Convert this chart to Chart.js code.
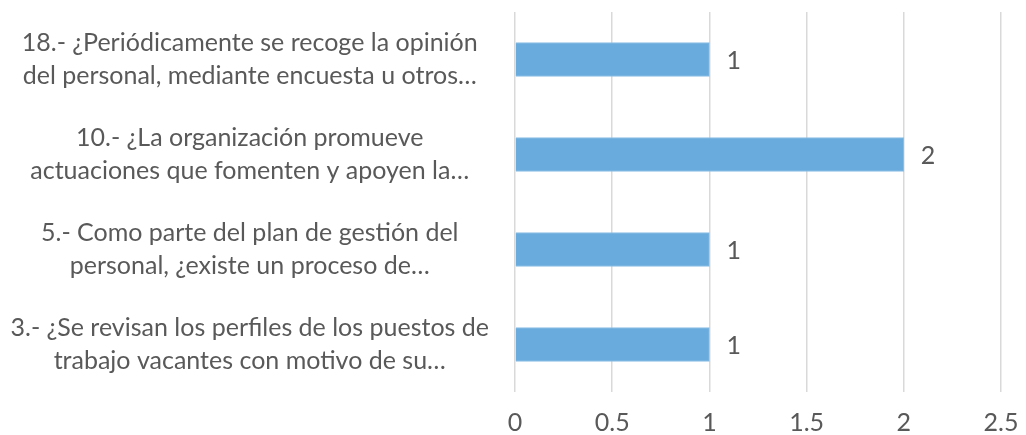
<!DOCTYPE html>
<html>
<head>
<meta charset="utf-8">
<script src="https://cdn.jsdelivr.net/npm/chart.js@4/dist/chart.umd.min.js"></script>
<style>
  html, body { margin: 0; padding: 0; background: #fff; }
  #wrap { width: 1026px; height: 435px; }
</style>
</head>
<body>
<div id="wrap"><canvas id="chart" width="1026" height="435"></canvas></div>
<script>
// Preguntas (de arriba hacia abajo, como en el gráfico)
const categories = [
    ['18.- ¿Periódicamente se recoge la opinión', 'del personal, mediante encuesta u otros…'],
    ['10.- ¿La organización promueve', 'actuaciones que fomenten y apoyen la…'],
    ['5.- Como parte del plan de gestión del', 'personal, ¿existe un proceso de…'],
    ['3.- ¿Se revisan los perfiles de los puestos de', 'trabajo vacantes con motivo de su…']
];
const values = [1, 2, 1, 1];
const xTicks = [0, 0.5, 1, 1.5, 2, 2.5];

const FONT = 'Lato, "Open Sans", sans-serif';
const GRAY = '#595959';

// etiquetas de datos a la derecha de cada barra
const valueLabels = {
    id: 'valueLabels',
    afterDatasetsDraw(chart) {
        const ctx = chart.ctx;
        const meta = chart.getDatasetMeta(0);
        ctx.save();
        ctx.font = '25px ' + FONT;
        ctx.fillStyle = GRAY;
        ctx.textAlign = 'left';
        ctx.textBaseline = 'middle';
        meta.data.forEach((bar, i) => {
            ctx.fillText(String(values[i]), bar.x + 17, bar.y + 1);
        });
        ctx.restore();
    }
};

new Chart(document.getElementById('chart'), {
    type: 'bar',
    data: {
        labels: categories,
        datasets: [{
            data: values,
            backgroundColor: '#69abdd',
            borderColor: '#8fc0e6',
            borderWidth: 1,
            barThickness: 34
        }]
    },
    options: {
        indexAxis: 'y',
        responsive: false,
        animation: false,
        layout: { padding: { top: 12, right: 25, left: 0, bottom: 0 } },
        plugins: {
            legend: { display: false },
            tooltip: { enabled: false }
        },
        scales: {
            x: {
                min: 0,
                max: 2.5,
                afterBuildTicks: (scale) => { scale.ticks = xTicks.map(v => ({ value: v })); },
                afterFit: (scale) => {
                    scale.height = 43;
                    scale.paddingLeft = 0;
                    scale.paddingRight = 0;
                },
                grid: { color: '#d9d9d9', lineWidth: 1.5, drawTicks: false },
                border: { display: false },
                ticks: {
                    color: GRAY,
                    font: { family: FONT, size: 25 },
                    padding: 16,
                    callback: (v) => String(v)
                }
            },
            y: {
                grid: { display: false },
                border: { display: false },
                afterFit: (scale) => {
                    scale.width = 515;
                    scale.paddingTop = 0;
                    scale.paddingBottom = 0;
                },
                ticks: {
                    color: GRAY,
                    font: { family: FONT, size: 25, lineHeight: 1.32 },
                    crossAlign: 'center',
                    padding: 18
                }
            }
        }
    },
    plugins: [valueLabels]
});
</script>
</body>
</html>
